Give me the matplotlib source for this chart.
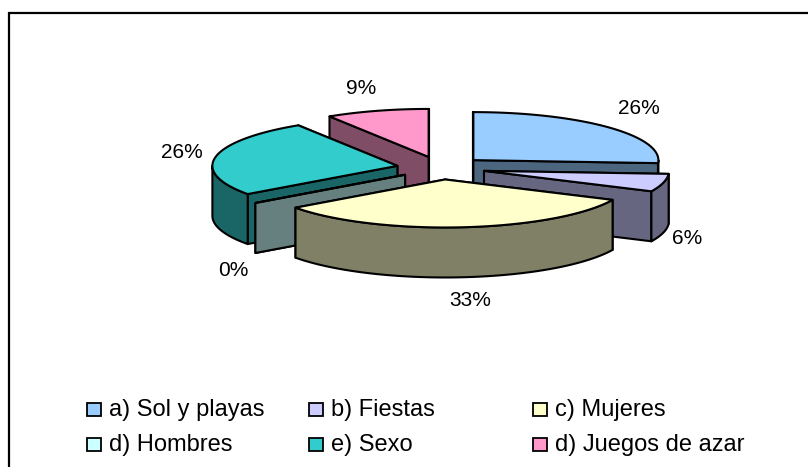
import numpy as np
import matplotlib
matplotlib.use("Agg")
from matplotlib import pyplot as plt
from matplotlib.patches import Polygon, Rectangle

plt.rcParams['font.family'] = ['Liberation Sans', 'DejaVu Sans']

# Data
categories = ["a) Sol y playas", "b) Fiestas", "c) Mujeres",
              "d) Hombres", "e) Sexo", "d) Juegos de azar"]
values = [26, 6, 33, 0, 26, 9]
colors = ["#99CCFF", "#CCCCFF", "#FFFFCC", "#CCFFFF", "#33CCCC", "#FF99CC"]
labels = ["26%", "6%", "33%", "0%", "26%", "9%"]
label_pos = [(639, 109), (687, 238), (470, 300), (233, 271), (182, 153), (361, 89)]

# Pie geometry in pixels
cx, cy = 441, 168
rx, ry = 185, 48
depth = 50
explode = 0.24
draw_order = [5, 0, 4, 1, 3, 2]

fig = plt.figure(figsize=(8.08, 4.67), dpi=100)
ax = fig.add_axes([0, 0, 1, 1])
ax.set_xlim(0, 808)
ax.set_ylim(467, 0)
ax.axis('off')

# Only top and left of the chart frame are visible
ax.plot([8.5, 8.5, 808], [467, 12.5, 12.5], color='black', lw=1.6, solid_joinstyle='miter')


def point(ox, oy, deg):
    a = np.radians(deg)
    return ox + rx * np.sin(a), oy - ry * np.cos(a)


def dark(color):
    return tuple(c * 0.5 for c in matplotlib.colors.to_rgb(color))


def face(pts, color, z):
    ax.add_patch(Polygon(pts, closed=True, facecolor=color, edgecolor='black',
                         lw=1.5, joinstyle='round', zorder=z))


fractions = np.array(values) / sum(values)
edges = np.concatenate([[0], np.cumsum(fractions) * 360])

z = 2
for i in draw_order:
    start, end = edges[i], edges[i + 1]
    mid = np.radians((start + end) / 2)
    ox = cx + explode * rx * np.sin(mid)
    oy = cy - explode * ry * np.cos(mid)
    side = dark(colors[i])

    # cut faces, the one further back first
    cuts = sorted([start, end], key=lambda d: point(ox, oy, d)[1])
    for deg in cuts:
        px, py = point(ox, oy, deg)
        face([(ox, oy), (px, py), (px, py + depth), (ox, oy + depth)], side, z)
        z += 1

    # outer wall, only the part turned towards the viewer
    lo, hi = max(start, 90), min(end, 270)
    if hi > lo:
        t = np.linspace(lo, hi, 80)
        top = [point(ox, oy, d) for d in t]
        bottom = [(x, y + depth) for x, y in top]
        face(top + bottom[::-1], side, z)
        z += 1

    # top face
    t = np.linspace(start, end, 120)
    face([(ox, oy)] + [point(ox, oy, d) for d in t], colors[i], z)
    z += 1

for text, (x, y) in zip(labels, label_pos):
    ax.text(x, y, text, fontsize=15, ha='center', va='center', zorder=100)

# Legend, two rows of three
col_x = [87, 309, 533]
row_y = [409.5, 444]
for i, name in enumerate(categories):
    x = col_x[i % 3]
    y = row_y[i // 3]
    ax.add_patch(Rectangle((x, y - 6.5), 14, 13, facecolor=colors[i], edgecolor='black', lw=1.3))
    ax.text(x + 22, y + 0.5, name, fontsize=17, ha='left', va='center')

fig.savefig("out.png", dpi=100)
